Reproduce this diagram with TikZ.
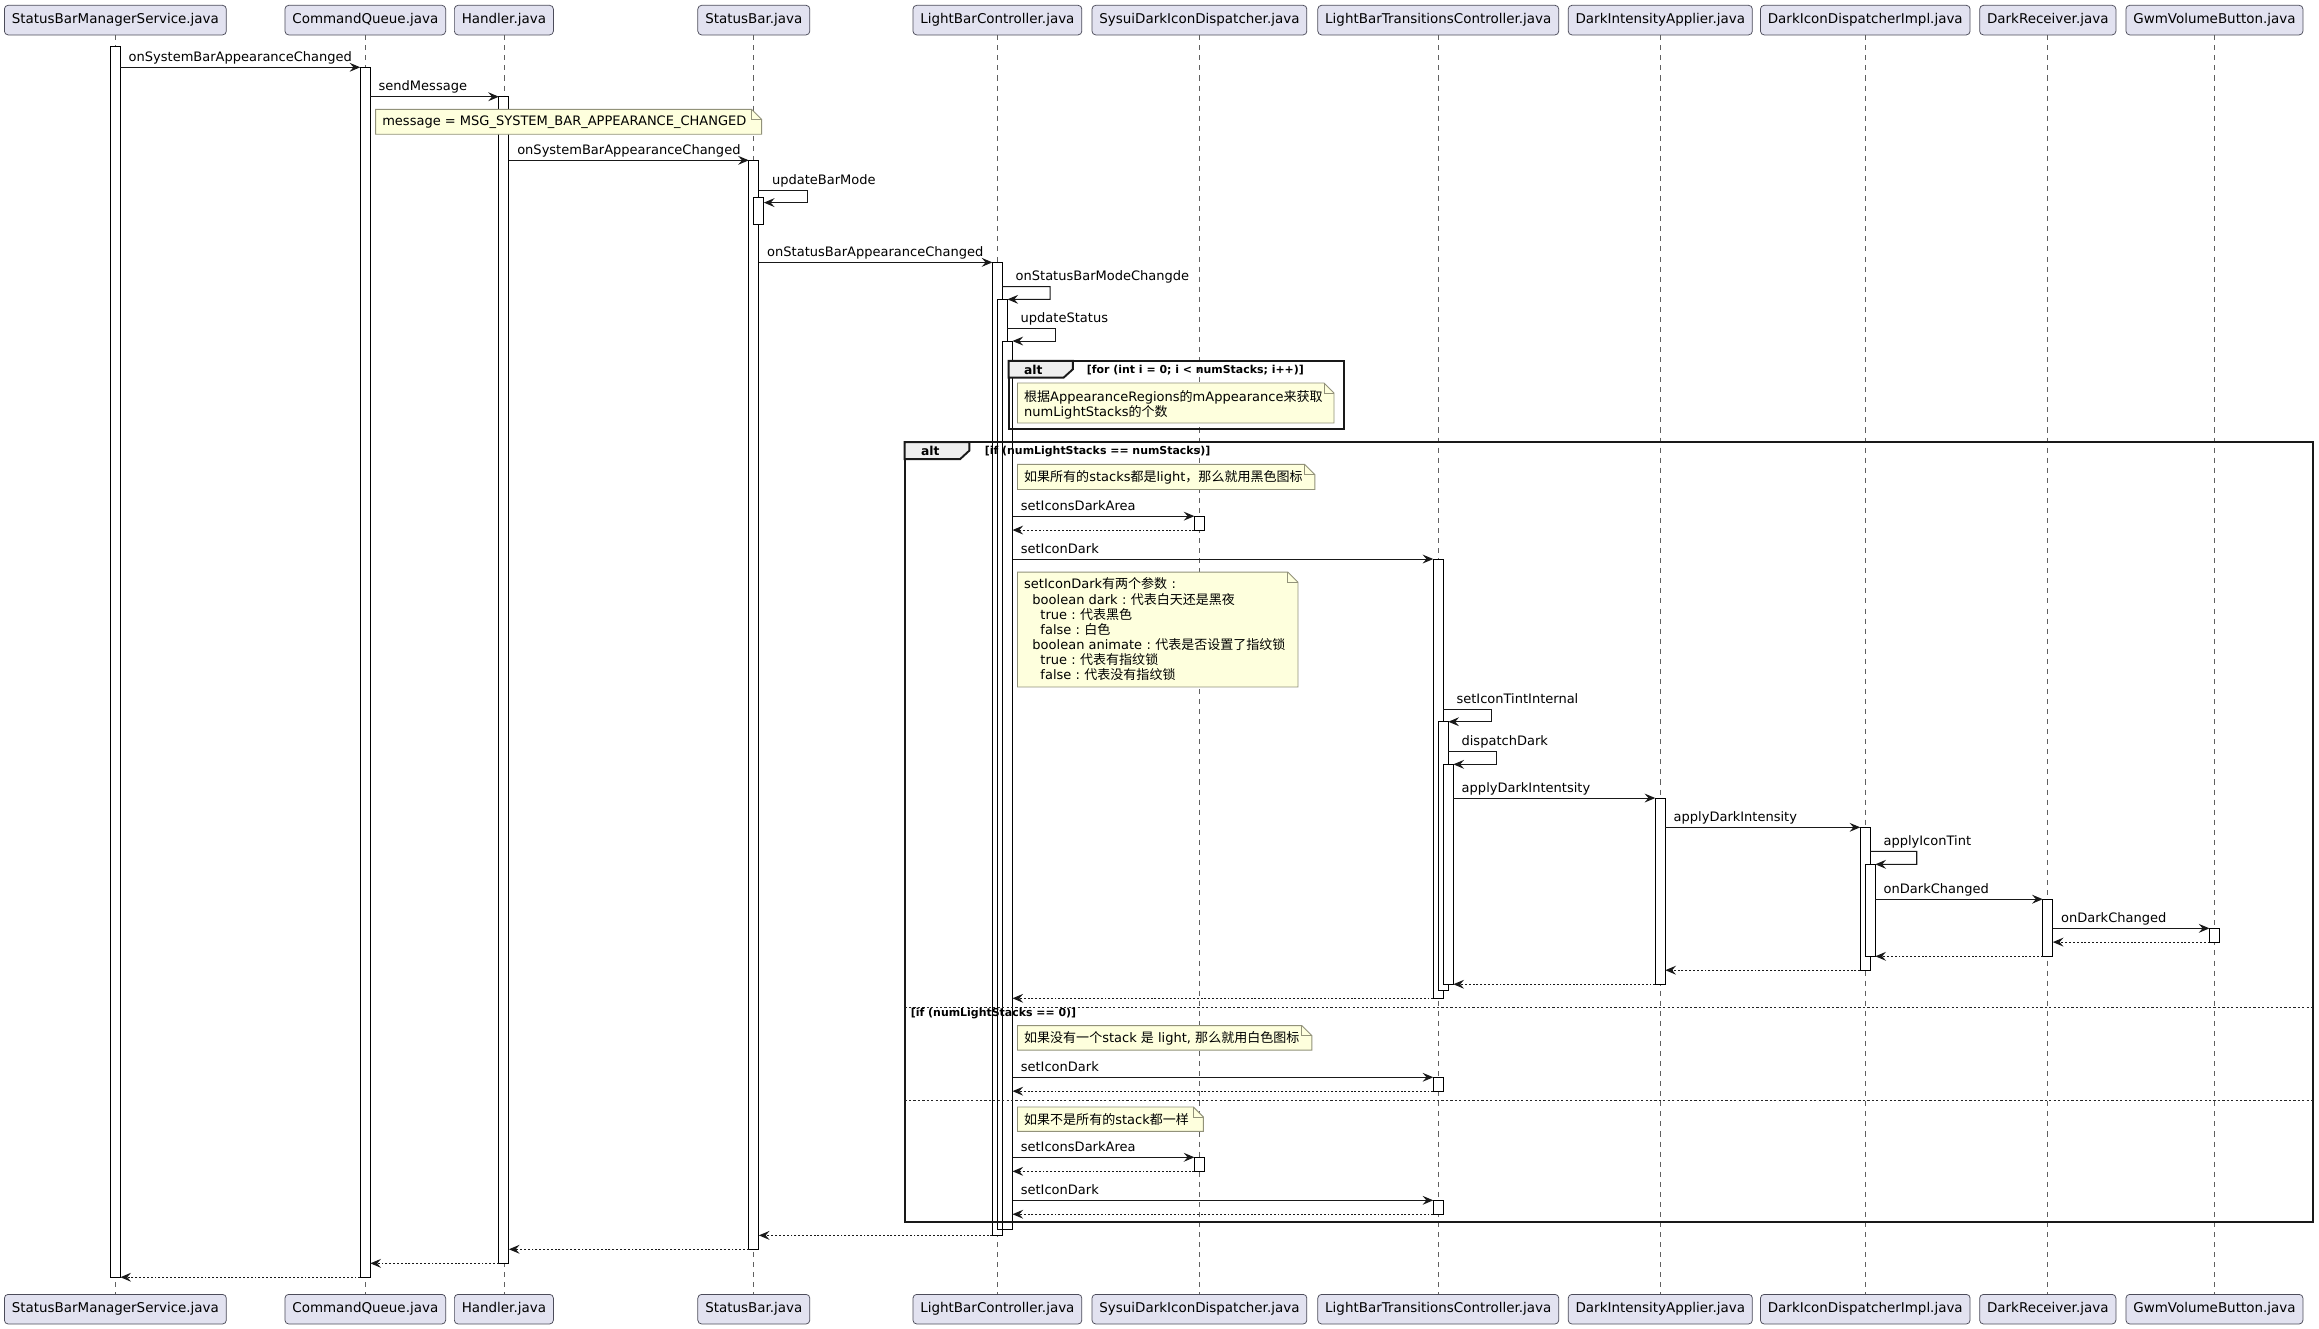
\documentclass[tikz,border=0pt]{standalone}
\usepackage{fontspec}
\setmainfont{DejaVu Sans}
\newfontfamily\cjk{Noto Sans CJK SC}
\usetikzlibrary{arrows.meta,calc}
\definecolor{partfill}{HTML}{E2E2F0}
\definecolor{partdraw}{HTML}{4C4C5A}
\definecolor{notefill}{HTML}{FEFFDD}
\definecolor{notedraw}{HTML}{92927A}
\definecolor{lifec}{HTML}{606060}
\definecolor{tabfill}{HTML}{EEEEEE}
\newcommand\actv[4]{\node[actbox, anchor=north, minimum height={(#4)-(#3)}] (#1) at (#2,#3) {};}
\newcommand\notebg[4]{\filldraw[notebgst] (#1,#2) -- ({#3-6.8},#2) -- (#3,{#2+6.8}) -- (#3,#4) -- (#1,#4) -- cycle;
  \draw[notebgst, fill=none] ({#3-6.8},#2) -- ({#3-6.8},{#2+6.8}) -- (#3,{#2+6.8});}
\newcommand\fc{\makebox[8.8pt]{:}}
\begin{document}
\begin{tikzpicture}[x=1pt,y=-1pt,
  part/.style={draw=partdraw, fill=partfill, rounded corners=2.5pt, line width=0.5pt, minimum height=20pt, inner xsep=5pt, inner ysep=0pt, font=\fontsize{9.1}{11}\selectfont},
  actbox/.style={draw=black, fill=white, line width=0.6pt, minimum width=6.8pt, inner sep=0pt, outer sep=0pt},
  life/.style={draw=lifec, line width=0.5pt, dash pattern=on 3.4pt off 3.4pt},
  msg/.style={draw=black!90, line width=0.7pt, -{Stealth[length=7.2pt,width=6pt,inset=2.6pt]}},
  ret/.style={msg, dash pattern=on 1.3pt off 1.3pt},
  lbl/.style={inner sep=0pt, anchor=base west, xshift=5.3pt, yshift=4pt, font=\fontsize{8.8}{10.2}\selectfont},
  selflbl/.style={lbl, xshift=3.3pt},
  framest/.style={draw=black!90, line width=1.3pt},
  tabst/.style={fill=tabfill, draw=black!90, line width=1.3pt},
  altlbl/.style={inner sep=0pt, anchor=west, font=\bfseries\fontsize{8.3}{10}\selectfont},
  guard/.style={inner sep=0pt, anchor=west, font=\bfseries\fontsize{7.4}{9}\selectfont},
  notebgst/.style={fill=notefill, draw=notedraw, line width=0.6pt},
  notetxt/.style={inner sep=0pt, align=left, font=\fontsize{8.8}{10.2}\selectfont},
  sepst/.style={draw=black!85, line width=0.6pt, dash pattern=on 1.5pt off 1.5pt}]
\useasboundingbox (0,0) rectangle (1568,898.6);
\fill[white] (0,0) rectangle (1568,898.6);
% participants
\node[part] (pA) at (78,13.6) {StatusBarManagerService.java};
\node[part] (pB) at (247,13.6) {CommandQueue.java};
\node[part] (pC) at (340.7,13.6) {Handler.java};
\node[part] (pD) at (509.7,13.6) {StatusBar.java};
\node[part] (pE) at (674.4,13.6) {LightBarController.java};
\node[part] (pF) at (811,13.6) {SysuiDarkIconDispatcher.java};
\node[part] (pG) at (972.5,13.6) {LightBarTransitionsController.java};
\node[part] (pH) at (1122.6,13.6) {DarkIntensityApplier.java};
\node[part] (pI) at (1261.2,13.6) {DarkIconDispatcherImpl.java};
\node[part] (pJ) at (1384.6,13.6) {DarkReceiver.java};
\node[part] (pK) at (1497.3,13.6) {GwmVolumeButton.java};
\node[part] (qA) at (78,885.2) {StatusBarManagerService.java};
\node[part] (qB) at (247,885.2) {CommandQueue.java};
\node[part] (qC) at (340.7,885.2) {Handler.java};
\node[part] (qD) at (509.7,885.2) {StatusBar.java};
\node[part] (qE) at (674.4,885.2) {LightBarController.java};
\node[part] (qF) at (811,885.2) {SysuiDarkIconDispatcher.java};
\node[part] (qG) at (972.5,885.2) {LightBarTransitionsController.java};
\node[part] (qH) at (1122.6,885.2) {DarkIntensityApplier.java};
\node[part] (qI) at (1261.2,885.2) {DarkIconDispatcherImpl.java};
\node[part] (qJ) at (1384.6,885.2) {DarkReceiver.java};
\node[part] (qK) at (1497.3,885.2) {GwmVolumeButton.java};
\foreach \p in {A,B,C,D,E,F,G,H,I,J,K} {\draw[life] (p\p.south) -- (q\p.north);}
% activations
\actv{a1}{78}{31.5}{863.6}
\actv{q1}{247}{45.5}{863.6}
\actv{h1}{340.7}{65.4}{854.2}
\actv{sb1}{509.7}{108.4}{844.7}
\actv{sb2}{513.1}{133.4}{152}
\actv{c1}{674.4}{177.4}{835.3}
\actv{c2}{677.8}{202.4}{831}
\actv{c3}{681.2}{230.6}{831}
\actv{s1}{811}{349}{358.4}
\actv{t1}{972.5}{378}{675}
\actv{t2}{975.9}{488}{670}
\actv{t3}{979.3}{516.8}{665.5}
\actv{i1}{1122.6}{539.6}{665.5}
\actv{d1}{1261.2}{559.4}{656}
\actv{d2}{1264.6}{584.4}{646.6}
\actv{r1}{1384.6}{608}{646.6}
\actv{g1}{1497.3}{627.7}{637}
\actv{t4}{972.5}{728.4}{737.8}
\actv{s2}{811}{782.5}{792}
\actv{t5}{972.5}{811.6}{821}
% alt frames
\draw[framest] (682,244) rectangle (909,290);
\draw[tabst] (682,244) -- (725.4,244) -- (725.4,249.7) -- (719.2,255.3) -- (682,255.3) -- cycle;
\node[altlbl] (alt1) at (692.3,250) {alt};
\node[guard] (gd1) at (734.7,250) {[for (int i = 0; i < numStacks; i++)]};
\draw[framest] (611.6,299) rectangle (1564,826.5);
\draw[tabst] (611.6,299) -- (655.4,299) -- (655.4,304.7) -- (649.2,310.4) -- (611.6,310.4) -- cycle;
\node[altlbl] (alt2) at (622.6,305) {alt};
\node[guard] (gd2) at (665.7,305) {[if (numLightStacks == numStacks)]};
\draw[sepst] (611.6,681) -- (1564,681);
\node[guard] (gd3) at (615.7,685.5) {[if (numLightStacks == 0)]};
\draw[sepst] (611.6,744) -- (1564,744);
% notes
\notebg{254}{74}{515}{90.8}
\node[notetxt, anchor=west] (nA) at (258.3,82.4) {message = MSG\_SYSTEM\_BAR\_APPEARANCE\_CHANGED};
\notebg{688}{259}{902}{286}
\node[notetxt, anchor=north west] (nB) at (692.3,263.6) {{\cjk 根据}AppearanceRegions{\cjk 的}mAppearance{\cjk 来获取}\\numLightStacks{\cjk 的个数}};
\notebg{688}{314}{889}{331}
\node[notetxt, anchor=west] (nC) at (692.3,322.5) {{\cjk 如果所有的}stacks{\cjk 都是}light{\cjk ，那么就用黑色图标}};
\notebg{688}{386.8}{877.6}{464.5}
\node[notetxt, anchor=north west] (nD) at (692.3,390.6) {setIconDark{\cjk 有两个参数}\fc\\
\hspace*{5.6pt}boolean dark\fc{\cjk 代表白天还是黑夜}\\
\hspace*{11pt}true\fc{\cjk 代表黑色}\\
\hspace*{11pt}false\fc{\cjk 白色}\\
\hspace*{5.6pt}boolean animate\fc{\cjk 代表是否设置了指纹锁}\\
\hspace*{11pt}true\fc{\cjk 代表有指纹锁}\\
\hspace*{11pt}false\fc{\cjk 代表没有指纹锁}};
\notebg{688}{693.5}{887}{710}
\node[notetxt, anchor=west] (nE) at (692.3,701.8) {{\cjk 如果没有一个}stack {\cjk 是} light, {\cjk 那么就用白色图标}};
\notebg{688}{748.5}{813.7}{765}
\node[notetxt, anchor=west] (nF) at (692.3,756.8) {{\cjk 如果不是所有的}stack{\cjk 都一样}};
% messages
\draw[msg] (a1.east |- q1.north) node[lbl] (m1) {onSystemBarAppearanceChanged} -- (q1.north west);
\draw[msg] (q1.east |- h1.north) node[lbl] (m2) {sendMessage} -- (h1.north west);
\draw[msg] (h1.east |- sb1.north) node[lbl] (m3) {onSystemBarAppearanceChanged} -- (sb1.north west);
\draw[msg] (sb1.east |- 0,128.5) node[selflbl] (m4) {updateBarMode} -- ++(32.9,0) -- ++(0,8.5) -- (sb2.east |- 0,137);
\draw[msg] (sb1.east |- c1.north) node[lbl] (m5) {onStatusBarAppearanceChanged} -- (c1.north west);
\draw[msg] (c1.east |- 0,193.8) node[selflbl] (m6) {onStatusBarModeChangde} -- ++(32.2,0) -- ++(0,8.6) -- (c2.north east);
\draw[msg] (c2.east |- 0,222) node[selflbl] (m7) {updateStatus} -- ++(32.5,0) -- ++(0,8.6) -- (c3.north east);
\draw[msg] (c3.east |- s1.north) node[lbl] (m8) {setIconsDarkArea} -- (s1.north west);
\draw[ret] (s1.south west) -- (c3.east |- s1.south);
\draw[msg] (c3.east |- t1.north) node[lbl] (m9) {setIconDark} -- (t1.north west);
\draw[msg] (t1.east |- 0,479.5) node[selflbl] (m10) {setIconTintInternal} -- ++(32.7,0) -- ++(0,8.5) -- (t2.north east);
\draw[msg] (t2.east |- 0,508) node[selflbl] (m11) {dispatchDark} -- ++(32.4,0) -- ++(0,8.8) -- (t3.north east);
\draw[msg] (t3.east |- i1.north) node[lbl] (m12) {applyDarkIntentsity} -- (i1.north west);
\draw[msg] (i1.east |- d1.north) node[lbl] (m13) {applyDarkIntensity} -- (d1.north west);
\draw[msg] (d1.east |- 0,575.6) node[selflbl] (m14) {applyIconTint} -- ++(31.4,0) -- ++(0,8.8) -- (d2.north east);
\draw[msg] (d2.east |- r1.north) node[lbl] (m15) {onDarkChanged} -- (r1.north west);
\draw[msg] (r1.east |- g1.north) node[lbl] (m16) {onDarkChanged} -- (g1.north west);
\draw[ret] (g1.south west) -- (r1.east |- g1.south);
\draw[ret] (r1.south west) -- (d2.east |- r1.south);
\draw[ret] (d1.south west) -- (i1.east |- d1.south);
\draw[ret] (i1.south west) -- (t3.east |- i1.south);
\draw[ret] (t1.south west) -- (c3.east |- t1.south);
\draw[msg] (c3.east |- t4.north) node[lbl] (m17) {setIconDark} -- (t4.north west);
\draw[ret] (t4.south west) -- (c3.east |- t4.south);
\draw[msg] (c3.east |- s2.north) node[lbl] (m18) {setIconsDarkArea} -- (s2.north west);
\draw[ret] (s2.south west) -- (c3.east |- s2.south);
\draw[msg] (c3.east |- t5.north) node[lbl] (m19) {setIconDark} -- (t5.north west);
\draw[ret] (t5.south west) -- (c3.east |- t5.south);
\draw[ret] (c1.south west) -- (sb1.east |- c1.south);
\draw[ret] (sb1.south west) -- (h1.east |- sb1.south);
\draw[ret] (h1.south west) -- (q1.east |- h1.south);
\draw[ret] (q1.south west) -- (a1.east |- q1.south);
\end{tikzpicture}
\end{document}
